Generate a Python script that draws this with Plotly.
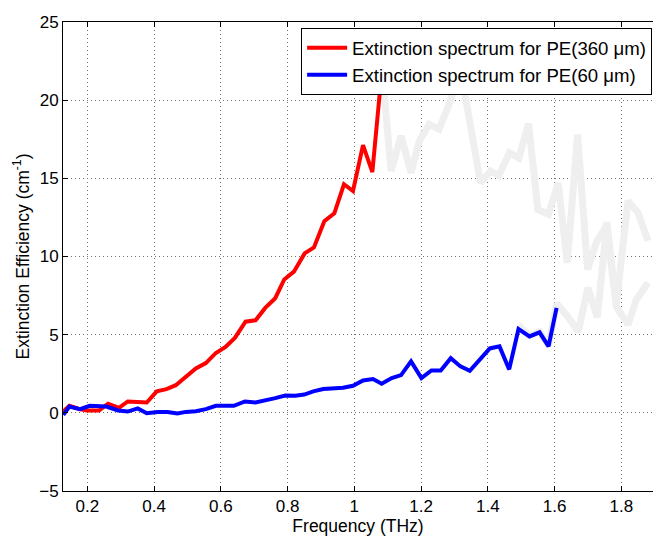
import plotly.graph_objects as go

# Extinction spectrum, PE sample 360 um (reliable band)
red_f = [0.128, 0.146, 0.173, 0.198, 0.235, 0.262, 0.295, 0.321, 0.350, 0.378, 0.408,
         0.437, 0.465, 0.493, 0.525, 0.555, 0.585, 0.614, 0.642, 0.674, 0.704, 0.733,
         0.763, 0.790, 0.819, 0.851, 0.879, 0.910, 0.940, 0.969, 0.996, 1.026, 1.054, 1.083]
red_v = [0.08, 0.45, 0.26, 0.15, 0.15, 0.58, 0.32, 0.73, 0.70, 0.66, 1.37,
         1.52, 1.77, 2.29, 2.84, 3.18, 3.83, 4.21, 4.79, 5.83, 5.92, 6.71,
         7.33, 8.53, 9.03, 10.20, 10.58, 12.26, 12.76, 14.62, 14.19, 17.12, 15.40, 22.0]

# Extinction spectrum, PE sample 60 um (reliable band)
blue_f = [0.128, 0.146, 0.178, 0.207, 0.257, 0.292, 0.321, 0.351, 0.378, 0.411, 0.440,
          0.470, 0.495, 0.525, 0.555, 0.585, 0.639, 0.672, 0.704, 0.733, 0.763, 0.793,
          0.823, 0.850, 0.877, 0.907, 0.937, 0.966, 0.996, 1.026, 1.056, 1.082, 1.112,
          1.140, 1.170, 1.201, 1.231, 1.259, 1.289, 1.318, 1.346, 1.376, 1.406, 1.435,
          1.464, 1.492, 1.525, 1.555, 1.582, 1.606]
blue_v = [-0.13, 0.40, 0.24, 0.45, 0.40, 0.15, 0.08, 0.28, -0.02, 0.06, 0.06,
          -0.04, 0.06, 0.10, 0.24, 0.45, 0.45, 0.73, 0.66, 0.83, 0.94, 1.11,
          1.09, 1.17, 1.37, 1.52, 1.58, 1.60, 1.73, 2.07, 2.16, 1.86, 2.22,
          2.41, 3.29, 2.22, 2.71, 2.71, 3.50, 2.97, 2.69, 3.44, 4.12, 4.25,
          2.78, 5.36, 4.89, 5.15, 4.25, 6.71]

# Noisy continuation beyond the usable band (shown faded)
ghost360_f = [1.083, 1.110, 1.140, 1.170, 1.195, 1.224, 1.254, 1.284, 1.318, 1.348,
              1.378, 1.408, 1.433, 1.465, 1.493, 1.522, 1.550, 1.582, 1.611, 1.638,
              1.669, 1.699, 1.725, 1.755, 1.785, 1.820, 1.850, 1.880]
ghost360_v = [22.0, 15.47, 17.71, 15.36, 17.39, 18.46, 18.14, 19.74, 22.0, 18.03,
              14.72, 15.47, 15.17, 16.63, 16.30, 18.50, 13.00, 12.70, 14.70, 9.60,
              17.80, 9.17, 10.90, 11.94, 6.90, 13.55, 12.80, 11.00]

ghost60_f = [1.492, 1.525, 1.555, 1.582, 1.606, 1.638, 1.671, 1.700, 1.728, 1.757,
             1.785, 1.820, 1.845, 1.880]
ghost60_v = [5.60, 4.95, 5.20, 4.30, 7.00, 6.20, 5.20, 8.00, 6.10, 12.20,
             6.80, 5.64, 7.24, 8.33]

font = "Liberation Sans, Arial, sans-serif"
ghost = "#efefef"

fig = go.Figure()
fig.add_trace(go.Scatter(x=ghost360_f, y=ghost360_v, mode="lines",
                         line=dict(color=ghost, width=7), showlegend=False, hoverinfo="skip"))
fig.add_trace(go.Scatter(x=ghost60_f, y=ghost60_v, mode="lines",
                         line=dict(color=ghost, width=7), showlegend=False, hoverinfo="skip"))
fig.add_trace(go.Scatter(x=red_f, y=red_v, mode="lines",
                         line=dict(color="#ff0000", width=4),
                         name="Extinction spectrum for PE(360 μm)"))
fig.add_trace(go.Scatter(x=blue_f, y=blue_v, mode="lines",
                         line=dict(color="#0000ff", width=4),
                         name="Extinction spectrum for PE(60 μm)"))

axis_common = dict(
    showline=True, linecolor="black", linewidth=1,
    ticks="inside", ticklen=5, tickcolor="black",
    showgrid=True, gridcolor="#707070", griddash="1px,3px", gridwidth=1,
    zeroline=False,
    tickfont=dict(family=font, size=17, color="black"),
)

fig.update_xaxes(range=[0.127, 1.895], tickvals=[0.2, 0.4, 0.6, 0.8, 1.0, 1.2, 1.4, 1.6, 1.8],
                 ticktext=["0.2", "0.4", "0.6", "0.8", "1", "1.2", "1.4", "1.6", "1.8"],
                 mirror="allticks",
                 title=dict(text="Frequency (THz)", font=dict(family=font, size=17.5, color="black"),
                            standoff=3),
                 **axis_common)
fig.update_yaxes(range=[-5, 25], tickvals=[-5, 0, 5, 10, 15, 20, 25],
                 mirror=False,
                 title=dict(text="Extinction Efficiency (cm<sup>-1</sup>)",
                            font=dict(family=font, size=17.5, color="black"), standoff=5),
                 **axis_common)

fig.update_layout(
    width=653, height=536,
    margin=dict(l=63, r=0, t=22, b=45),
    plot_bgcolor="white", paper_bgcolor="white",
    legend=dict(x=0.9985, y=0.987, xanchor="right", yanchor="top",
                bgcolor="white", bordercolor="black", borderwidth=1,
                font=dict(family=font, size=18.6, color="black"),
                tracegroupgap=0, itemwidth=40),
)

fig.write_html("out.html")
